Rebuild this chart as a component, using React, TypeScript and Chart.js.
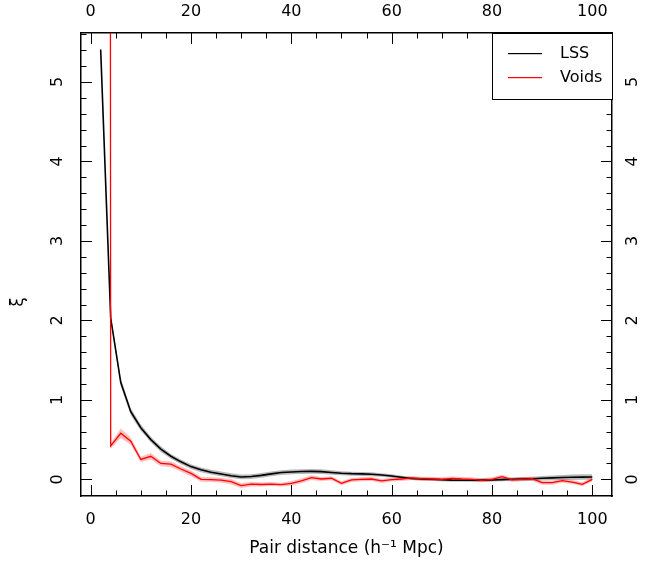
import React, { useEffect, useRef } from "react";
import { Chart, registerables } from "chart.js";

Chart.register(...registerables);

// Pair distance bins (h^-1 Mpc)
const distance = [
  2, 4, 6, 8, 10, 12, 14, 16, 18, 20, 22, 24, 26, 28, 30, 32, 34, 36, 38, 40,
  42, 44, 46, 48, 50, 52, 54, 56, 58, 60, 62, 64, 66, 68, 70, 72, 74, 76, 78, 80,
  82, 84, 86, 88, 90, 92, 94, 96, 98, 100,
];

// LSS correlation function
const lssXi = [
  5.41, 2.03, 1.22, 0.85, 0.65, 0.5, 0.38, 0.29, 0.22, 0.16, 0.12, 0.09, 0.067, 0.045, 0.03, 0.035, 0.05, 0.068, 0.085, 0.093,
  0.098, 0.1, 0.097, 0.086, 0.077, 0.071, 0.068, 0.064, 0.055, 0.042, 0.025, 0.01, 0.004, 0.0, -0.005, -0.01, -0.012, -0.012, -0.01, -0.008,
  -0.004, 0.0, 0.004, 0.008, 0.013, 0.018, 0.023, 0.026, 0.028, 0.03,
];
const lssErr = [
  0.04, 0.04, 0.045, 0.045, 0.04, 0.035, 0.035, 0.03, 0.03, 0.03, 0.03, 0.03, 0.03, 0.03, 0.03, 0.03, 0.03, 0.03, 0.03, 0.03,
  0.03, 0.03, 0.03, 0.028, 0.025, 0.025, 0.025, 0.025, 0.022, 0.022, 0.02, 0.02, 0.02, 0.02, 0.02, 0.02, 0.02, 0.02, 0.02, 0.02,
  0.02, 0.022, 0.025, 0.025, 0.028, 0.03, 0.032, 0.035, 0.035, 0.035,
];

// Voids correlation function
const voidsXi = [
  200, 0.42, 0.58, 0.48, 0.25, 0.29, 0.2, 0.19, 0.13, 0.075, 0.0, -0.005, -0.01, -0.03, -0.08, -0.06, -0.065, -0.06, -0.067, -0.05,
  -0.02, 0.02, 0.004, 0.013, -0.05, -0.008, 0.0, 0.004, -0.02, -0.004, 0.004, 0.017, 0.008, 0.004, 0.0, 0.013, 0.004, 0.0, -0.013, 0.0,
  0.034, -0.008, 0.0, 0.008, -0.042, -0.042, -0.017, -0.034, -0.063, 0.0,
];
const voidsErr = [
  null, 0.035, 0.06, 0.045, 0.035, 0.04, 0.035, 0.035, 0.035, 0.035, 0.03, 0.03, 0.03, 0.035, 0.03, 0.03, 0.025, 0.025, 0.025, 0.03,
  0.03, 0.03, 0.025, 0.025, 0.025, 0.025, 0.025, 0.025, 0.025, 0.025, 0.025, 0.025, 0.025, 0.025, 0.025, 0.025, 0.025, 0.025, 0.025, 0.025,
  0.025, 0.025, 0.025, 0.025, 0.025, 0.025, 0.025, 0.025, 0.025, 0.025,
];

const seriesNames = ["LSS", "Voids"];
const seriesColors = ["#000000", "#ff0000"];
const xTickValues = [0, 20, 40, 60, 80, 100];
const yTickValues = [0, 1, 2, 3, 4, 5];
const yAxisTitle = "ξ";
const xAxisTitle = "Pair distance (h⁻¹ Mpc)";

const X_MIN = -1.92;
const X_MAX = 103.92;
const Y_MIN = -0.21;
const Y_MAX = 5.617;

const FONT = { family: "DejaVu Sans", size: 16 };
const TITLE_FONT = { family: "DejaVu Sans", size: 17 };

const pts = (ys: (number | null)[]) => distance.map((d, i) => ({ x: d, y: ys[i] }));
const band = (ys: number[], es: (number | null)[], sign: number) =>
  distance.map((d, i) => ({ x: d, y: es[i] == null ? null : ys[i] + sign * (es[i] as number) }));

const fixSize = (w: number | null, h: number | null) => (scale: any) => {
  if (w != null) scale.width = w;
  if (h != null) scale.height = h;
  scale.paddingLeft = 0;
  scale.paddingRight = 0;
  scale.paddingTop = 0;
  scale.paddingBottom = 0;
};

const setTicks = (vals: number[]) => (scale: any) => {
  scale.ticks = vals.map((v) => ({ value: v }));
};

const tickMarksPlugin = {
  id: "innerTicks",
  afterDraw(chart: any) {
    const { ctx, chartArea, scales } = chart;
    const { left, right, top, bottom } = chartArea;
    ctx.save();
    ctx.strokeStyle = "#000";
    ctx.lineWidth = 1;
    const major = 11;
    const minor = 5.5;
    ctx.beginPath();
    for (let k = 0; k <= 20; k++) {
      const v = k * 5;
      const px = Math.round(scales.x.getPixelForValue(v)) + 0.5;
      const len = v % 20 === 0 ? major : minor;
      ctx.moveTo(px, bottom);
      ctx.lineTo(px, bottom - len);
      ctx.moveTo(px, top);
      ctx.lineTo(px, top + len);
    }
    for (let k = -1; k <= 28; k++) {
      const v = k * 0.2;
      if (v < Y_MIN || v > Y_MAX) continue;
      const py = Math.round(scales.y.getPixelForValue(v)) + 0.5;
      const len = k % 5 === 0 ? major : minor;
      ctx.moveTo(left, py);
      ctx.lineTo(left + len, py);
      ctx.moveTo(right, py);
      ctx.lineTo(right - len, py);
    }
    ctx.stroke();

    // y-axis label (ξ), rotated like the tick labels
    ctx.fillStyle = "#000";
    ctx.font = `${TITLE_FONT.size}px ${TITLE_FONT.family}`;
    ctx.textAlign = "center";
    ctx.textBaseline = "middle";
    ctx.translate(19, 302);
    ctx.rotate(-Math.PI / 2);
    ctx.fillText(yAxisTitle, 0, 0);
    ctx.restore();
  },
};

const boxLegendPlugin = {
  id: "boxLegend",
  afterDraw(chart: any) {
    const { ctx, chartArea } = chart;
    const { right, top } = chartArea;
    ctx.save();
    ctx.fillStyle = "#fff";
    ctx.fillRect(right - 120, top, 120, 66);
    ctx.strokeStyle = "#000";
    ctx.lineWidth = 1;
    ctx.strokeRect(right - 120 + 0.5, top + 0.5, 120, 66);
    ctx.font = `${FONT.size}px ${FONT.family}`;
    ctx.textBaseline = "middle";
    ctx.textAlign = "left";
    seriesNames.forEach((name, i) => {
      const y = Math.round(top + 20 + i * 24);
      ctx.fillStyle = seriesColors[i];
      ctx.fillRect(right - 104, y, 34, 1.2);
      ctx.fillStyle = "#000";
      ctx.fillText(name, right - 52, y + 1);
    });
    ctx.restore();
  },
};

export default function App() {
  const canvasRef = useRef<HTMLCanvasElement | null>(null);

  useEffect(() => {
    const canvas = canvasRef.current;
    if (!canvas) return;
    const border = { display: true, color: "#000", width: 1.5 };
    const chart = new Chart(canvas, {
      type: "line",
      data: {
        datasets: [
          {
            label: seriesNames[1],
            data: pts(voidsXi),
            borderColor: seriesColors[1],
            borderWidth: 1.3,
            pointRadius: 0,
            fill: false,
            tension: 0,
          },
          {
            label: seriesNames[0],
            data: pts(lssXi),
            borderColor: seriesColors[0],
            borderWidth: 1.6,
            pointRadius: 0,
            fill: false,
            tension: 0,
          },
          {
            label: "voidsUpper",
            data: band(voidsXi, voidsErr, 1),
            borderWidth: 0,
            borderColor: "rgba(0,0,0,0)",
            backgroundColor: "rgba(255,0,0,0.25)",
            pointRadius: 0,
            fill: "+1",
          },
          {
            label: "voidsLower",
            data: band(voidsXi, voidsErr, -1),
            borderWidth: 0,
            borderColor: "rgba(0,0,0,0)",
            pointRadius: 0,
            fill: false,
          },
          {
            label: "lssUpper",
            data: band(lssXi, lssErr, 1),
            borderWidth: 0,
            borderColor: "rgba(0,0,0,0)",
            backgroundColor: "rgba(0,0,0,0.28)",
            pointRadius: 0,
            fill: "+1",
          },
          {
            label: "lssLower",
            data: band(lssXi, lssErr, -1),
            borderWidth: 0,
            borderColor: "rgba(0,0,0,0)",
            pointRadius: 0,
            fill: false,
          },
        ],
      },
      options: {
        animation: false,
        responsive: false,
        devicePixelRatio: 1,
        layout: { padding: 0 },
        plugins: {
          legend: { display: false },
          tooltip: { enabled: false },
          filler: { drawTime: "beforeDatasetsDraw" },
        },
        scales: {
          x: {
            type: "linear",
            position: "bottom",
            min: X_MIN,
            max: X_MAX,
            afterBuildTicks: setTicks(xTickValues),
            afterFit: fixSize(null, 67),
            grid: { display: false, drawTicks: false },
            border,
            ticks: { font: FONT, color: "#000", padding: 14, maxRotation: 0, autoSkip: false },
            title: {
              display: true,
              text: xAxisTitle,
              font: TITLE_FONT,
              color: "#000",
              padding: { top: 0, bottom: 4 },
            },
          },
          x2: {
            type: "linear",
            position: "top",
            min: X_MIN,
            max: X_MAX,
            afterBuildTicks: setTicks(xTickValues),
            afterFit: fixSize(null, 33),
            grid: { display: false, drawTicks: false },
            border,
            ticks: { font: FONT, color: "#000", padding: 12, maxRotation: 0, autoSkip: false },
          },
          y: {
            type: "linear",
            position: "left",
            min: Y_MIN,
            max: Y_MAX,
            afterBuildTicks: setTicks(yTickValues),
            afterFit: fixSize(81, null),
            grid: { display: false, drawTicks: false },
            border,
            ticks: {
              font: FONT,
              color: "#000",
              padding: 18,
              minRotation: 90,
              maxRotation: 90,
              crossAlign: "center",
              autoSkip: false,
            },
          },
          y2: {
            type: "linear",
            position: "right",
            min: Y_MIN,
            max: Y_MAX,
            afterBuildTicks: setTicks(yTickValues),
            afterFit: fixSize(44, null),
            grid: { display: false, drawTicks: false },
            border,
            ticks: {
              font: FONT,
              color: "#000",
              padding: 16,
              minRotation: 90,
              maxRotation: 90,
              crossAlign: "center",
              autoSkip: false,
            },
          },
        },
      } as any,
      plugins: [tickMarksPlugin, boxLegendPlugin],
    });
    return () => chart.destroy();
  }, []);

  return (
    <div style={{ position: "fixed", left: 0, top: 0, width: 656, height: 563, background: "#fff" }}>
      <canvas ref={canvasRef} width={656} height={563} style={{ display: "block", width: 656, height: 563 }} />
    </div>
  );
}
